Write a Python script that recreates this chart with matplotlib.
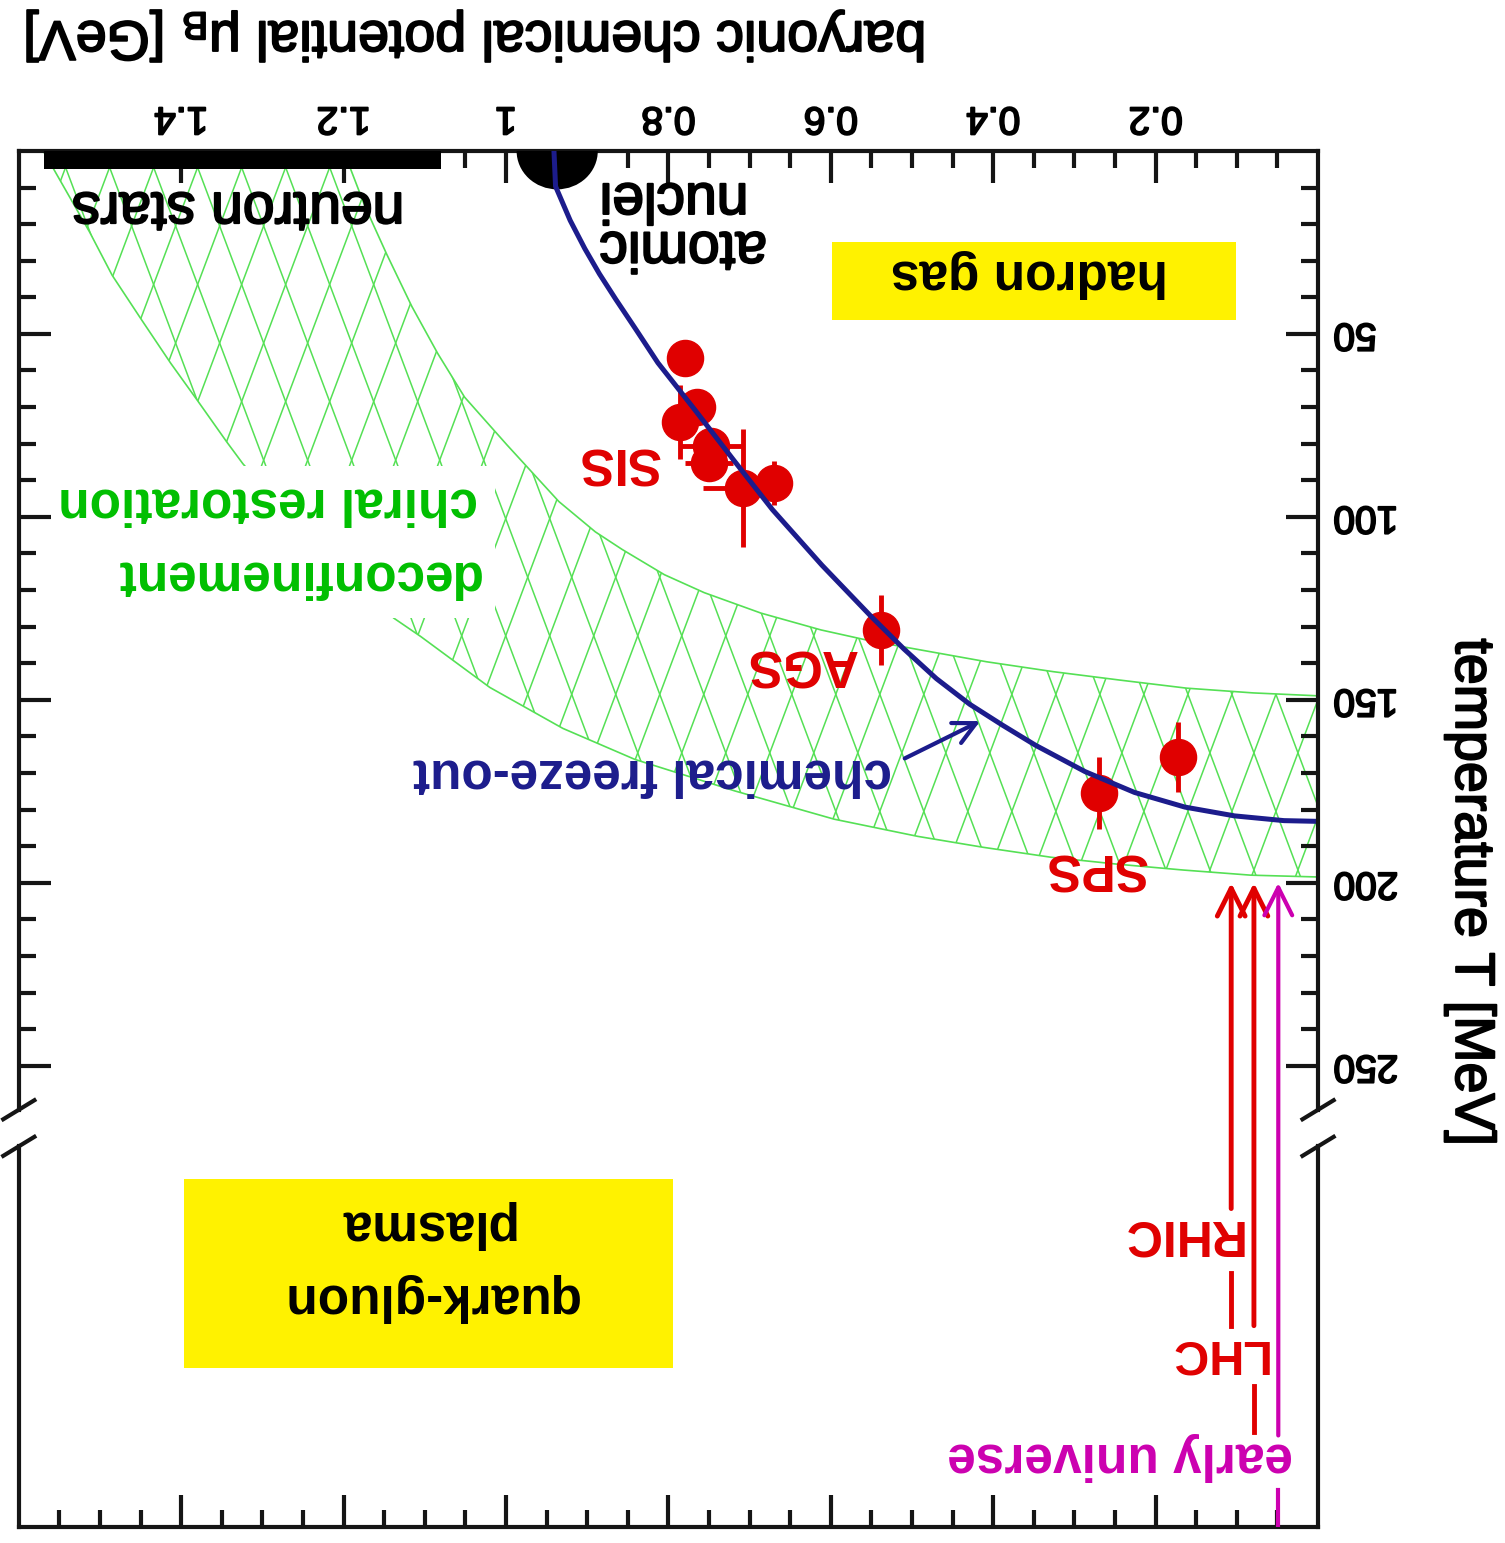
import matplotlib
matplotlib.use("Agg")
import matplotlib.pyplot as plt
import matplotlib.transforms as mtransforms
import matplotlib.patheffects as pe
import numpy as np
from matplotlib.patches import Rectangle, Ellipse, Polygon
from matplotlib.ticker import FixedLocator, FixedFormatter

plt.rcParams['font.family'] = ['Liberation Sans', 'DejaVu Sans']
plt.rcParams['mathtext.fontset'] = 'custom'
plt.rcParams['mathtext.rm'] = 'Liberation Sans'

# ---- data (mu_B in GeV, T in MeV) ----
freeze_mu = [0.941, 0.939, 0.921, 0.903, 0.885, 0.865, 0.840, 0.813, 0.768, 0.720, 0.672,
             0.611, 0.550, 0.510, 0.470, 0.429, 0.388, 0.348, 0.287, 0.226, 0.164, 0.103,
             0.042, 0.0]
freeze_T = [0, 9.7, 19.0, 26.7, 33.6, 40.5, 48.8, 57.9, 70.6, 84.4, 98.0,
            113.2, 127.3, 136.1, 144.2, 151.2, 157.0, 162.4, 169.6, 175.3, 179.3, 181.7,
            183.0, 183.2]

# crossover band (deconfinement / chiral restoration)
band_inner_mu = [1.200, 1.174, 1.147, 1.116, 1.084, 1.051, 0.999, 0.935, 0.890, 0.857,
                 0.805, 0.756, 0.686, 0.612, 0.551, 0.486, 0.408, 0.326, 0.244, 0.162, 0.080, 0.0]
band_inner_T = [0, 15.0, 28.2, 42.5, 55.4, 67.3, 80.3, 95.8, 104.1, 108.9,
                115.8, 120.7, 126.3, 130.9, 133.9, 136.5, 139.6, 142.3, 144.6, 146.8, 148.1, 148.9]
band_outer_mu = [1.570, 1.557, 1.513, 1.485, 1.449, 1.413, 1.380, 1.344, 1.324, 1.235, 1.138,
                 1.105, 1.020, 0.930, 0.841, 0.718, 0.596, 0.493, 0.412, 0.329, 0.247, 0.166, 0.083, 0.0]
band_outer_T = [0, 5.0, 22.1, 34.0, 46.1, 58.0, 68.2, 79.5, 85.5, 107.7, 127.7,
                132.7, 146.6, 157.8, 166.3, 174.9, 182.6, 187.3, 190.3, 193.0, 194.9, 196.5, 197.9, 198.4]

# freeze-out points
sis_mu = [0.780, 0.765, 0.786, 0.747, 0.750, 0.708, 0.670]
sis_T = [56.6, 70.1, 74.1, 80.5, 85.4, 92.1, 90.8]
sis_dmu = [0, 0, 0.022, 0.040, 0.030, 0.049, 0]
sis_dT = [0, 4, 10, 0, 0, 16, 6]
ags_mu = [0.538]
ags_T = [130.9]
ags_dT = [9.6]
sps_mu = [0.270, 0.173]
sps_T = [175.4, 165.6]
sps_dT = [9.8, 9.6]

neutron_star_mu = [1.080, 1.569]
neutron_star_T = 5.0
nucleon_mu = 0.937

colliders = ["RHIC", "LHC", "early universe"]
collider_mu = [0.107, 0.079, 0.049]
collider_tip_T = 200
collider_segments = [[(200, 289), (306.5, 321)],
                     [(200, 321), (337.5, 350)],
                     [(200, 351), (366, 376)]]

mu_ticks = [0.2, 0.4, 0.6, 0.8, 1.0, 1.2, 1.4]
mu_labels = ["0.2", "0.4", "0.6", "0.8", "1", "1.2", "1.4"]
T_ticks = [50, 100, 150, 200, 250]
T_labels = ["50", "100", "150", "200", "250"]
T_break = (262, 272)

# ---- colours ----
red = "#e00000"
navy = "#1c1c8c"
green_txt = "#00bf00"
green_line = "#55e055"
magenta = "#cc00b0"
yellow = "#fff200"
frame = "#151515"

fig = plt.figure(figsize=(15.05, 15.43), dpi=100)
fig.patch.set_facecolor("white")
ax = fig.add_axes([0.0125, 0.0104, 0.8633, 0.8918])
ax.set_xlim(1.6, 0)
ax.set_ylim(376, 0)

# band outline + diamond hatch clipped to it
band_xy = np.column_stack([np.r_[band_outer_mu, band_inner_mu[::-1]],
                           np.r_[band_outer_T, band_inner_T[::-1]]])
band = Polygon(band_xy, closed=True, facecolor="none", edgecolor="none")
ax.add_patch(band)
hatch_mu0, hatch_T0, hatch_dmu, hatch_slope = 1.434, 36.5, 0.0542, 0.001694
for k in range(-40, 16):
    for sgn in (1, -1):
        tt = np.array([-20.0, 230.0])
        mm = hatch_mu0 + k * hatch_dmu + sgn * hatch_slope * (tt - hatch_T0)
        ln, = ax.plot(mm, tt, color=green_line, lw=1.1, zorder=1)
        ln.set_clip_path(band)
ax.plot(band_outer_mu, band_outer_T, color=green_line, lw=1.2, zorder=1)
ax.plot(band_inner_mu, band_inner_T, color=green_line, lw=1.2, zorder=1)
# blank area behind the band labels
ax.add_patch(Rectangle((1.013, 86), 0.6, 41.5, facecolor="white", edgecolor="none", zorder=1.5))

# neutron stars and nuclei
ax.add_patch(Rectangle((neutron_star_mu[0], 0), neutron_star_mu[1] - neutron_star_mu[0],
                       neutron_star_T, facecolor="black", edgecolor="none", zorder=3))
ax.add_patch(Ellipse((nucleon_mu, 0), 0.1, 21, facecolor="black", edgecolor="none", zorder=3))

# data points and freeze-out curve
pt_kw = dict(fmt="o", ms=26, color=red, mec=red, elinewidth=3.5, capsize=0, zorder=4)
ax.errorbar(sis_mu, sis_T, xerr=sis_dmu, yerr=sis_dT, **pt_kw)
ax.errorbar(ags_mu, ags_T, yerr=ags_dT, **pt_kw)
ax.errorbar(sps_mu, sps_T, yerr=sps_dT, **pt_kw)
ax.plot(freeze_mu, freeze_T, color=navy, lw=3.6, zorder=5, solid_joinstyle="round")

# yellow boxes
ax.add_patch(Rectangle((0.101, 24.9), 0.497, 21.3, facecolor=yellow, edgecolor="none", zorder=2))
ax.add_patch(Rectangle((0.795, 281), 0.601, 51.7, facecolor=yellow, edgecolor="none", zorder=2))

heavy = [pe.withStroke(linewidth=1.4, foreground="black")]

def label(x, y, s, size, color="black", weight="bold", ha="center"):
    t = ax.text(x, y, s, rotation=180, ha=ha, va="center", fontsize=size,
                color=color, fontweight=weight, zorder=6)
    if weight == "normal":
        t.set_path_effects([pe.withStroke(linewidth=1.5, foreground=color)])

label(0.356, 33.5, "hadron gas", 37)
label(1.094, 313.3, "quark-gluon", 37)
label(1.100, 293.3, "plasma", 37)
label(1.330, 15.6, "neutron stars", 41, weight="normal")
label(0.885, 26.4, "atomic", 41, weight="normal", ha="left")
label(0.885, 13.1, "nuclei", 41, weight="normal", ha="left")
label(1.034, 95.8, "chiral restoration", 37, color=green_txt, ha="right")
label(1.032, 116.0, "deconfinement", 37, color=green_txt, ha="right")
label(0.862, 84.7, "SIS", 37, color=red)
label(0.637, 139.8, "AGS", 37, color=red)
label(0.274, 195.8, "SPS", 37, color=red)
label(0.820, 170.1, "chemical freeze-out", 37, color=navy)
ax.annotate("", xy=(0.416, 155.8), xytext=(0.509, 166.0),
            arrowprops=dict(arrowstyle="->,head_length=1.6,head_width=0.8", color=navy,
                            lw=3, shrinkA=0, shrinkB=0, mutation_scale=10), zorder=6)

# collider / early universe arrows
coll_pos = [(0.169, 295.8, 36), (0.125, 328.3, 35), (0.244, 356.8, 37)]
for name, mu, segs, (lx, ly, fs) in zip(colliders, collider_mu, collider_segments, coll_pos):
    col = magenta if name == "early universe" else red
    lw = 3.0 if name == "early universe" else 3.5
    ax.annotate("", xy=(mu, collider_tip_T), xytext=(mu, segs[0][1]),
                arrowprops=dict(arrowstyle="->,head_length=2.0,head_width=1.0", color=col,
                                lw=lw, shrinkA=0, shrinkB=0, mutation_scale=10), zorder=6)
    for a, b in segs[1:]:
        ax.plot([mu, mu], [a, b], color=col, lw=lw, zorder=6)
    label(lx, ly, name, fs, color=col)

# axes, ticks
ax.xaxis.set_major_locator(FixedLocator(mu_ticks))
ax.xaxis.set_major_formatter(FixedFormatter(mu_labels))
ax.xaxis.set_minor_locator(FixedLocator([m for m in np.arange(0.05, 1.6, 0.05)
                                         if min(abs(m - t) for t in mu_ticks) > 1e-6]))
ax.yaxis.set_major_locator(FixedLocator(T_ticks))
ax.yaxis.set_major_formatter(FixedFormatter(T_labels))
ax.yaxis.set_minor_locator(FixedLocator([t for t in range(10, 260, 10) if t % 50]))
ax.tick_params(which="both", direction="in", top=True, bottom=True, left=True, right=True,
               labeltop=True, labelbottom=False, labelleft=False, labelright=True,
               labelsize=28, labelrotation=180, color=frame, width=3)
ax.tick_params(which="major", length=23)
ax.tick_params(which="minor", length=12)
ax.tick_params(axis="x", pad=11)
ax.tick_params(axis="y", pad=11)
for lbl in ax.get_yticklabels():
    lbl.set_va("center")
for lbl in ax.get_xticklabels() + ax.get_yticklabels():
    lbl.set_path_effects(heavy)

for side in ("top", "bottom"):
    ax.spines[side].set_linewidth(3)
    ax.spines[side].set_color(frame)
ax.spines["left"].set_visible(False)
ax.spines["right"].set_visible(False)
trans = mtransforms.blended_transform_factory(ax.transAxes, ax.transData)
for xa in (0, 1):
    ax.plot([xa, xa], [0, T_break[0]], transform=trans, color=frame, lw=3, clip_on=False,
            solid_capstyle="projecting", zorder=7)
    ax.plot([xa, xa], [T_break[1], 376], transform=trans, color=frame, lw=3, clip_on=False,
            solid_capstyle="projecting", zorder=7)
    for tb in T_break:
        ax.plot([xa - 0.012, xa + 0.012], [tb + 2.6, tb - 2.6], transform=trans, color=frame,
                lw=3, clip_on=False, zorder=7)

ax.text(0.352, 1.084, "baryonic chemical potential μ$_\\mathregular{B}$ [GeV]",
        transform=ax.transAxes, rotation=180, ha="center", va="center", fontsize=40,
        path_effects=heavy)
ax.text(1.117, 0.4615, "temperature T [MeV]", transform=ax.transAxes, rotation=270,
        ha="center", va="center", fontsize=40, path_effects=heavy)

fig.savefig("out.png", dpi=100, facecolor="white")
